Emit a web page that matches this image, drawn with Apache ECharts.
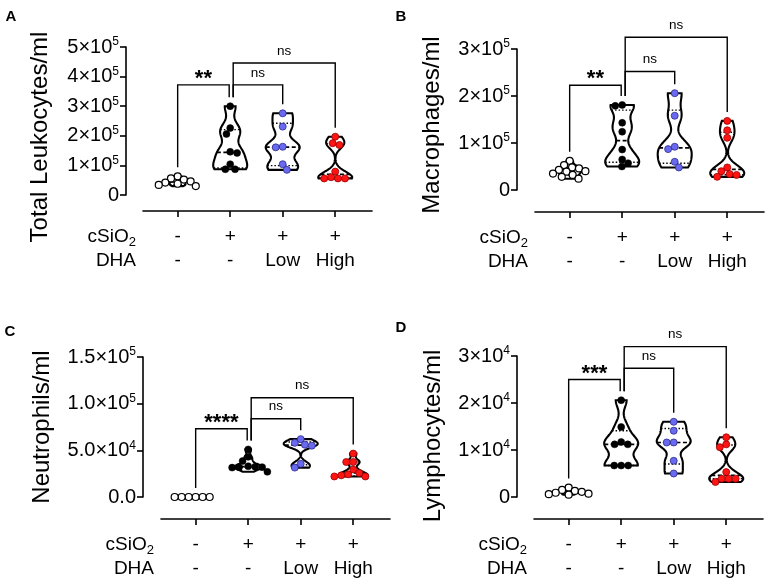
<!DOCTYPE html>
<html>
<head>
<meta charset="utf-8">
<script src="https://cdn.jsdelivr.net/npm/echarts@6.0.0/dist/echarts.min.js"></script>
<style>html,body{margin:0;padding:0;background:#fff}#main{width:765px;height:582px}</style>
</head>
<body>
<div id="main"></div>
<script>
// ---------- data ----------
const cSiO2Row = ['-', '+', '+', '+'];
const dhaRow = ['-', '-', 'Low', 'High'];

// A: Total leukocytes / ml
const leukControl = [63000, 56000, 52000, 46000, 42000, 38000, 34000, 30000];
const leukSiO2 = [300000, 226000, 206000, 146000, 142000, 104000, 87000, 87000];
const leukLow = [276000, 231000, 163000, 161000, 104000, 85000];
const leukHigh = [197000, 175000, 169000, 79000, 60000, 56000, 56000, 56000];
const leukTicks = ['0', '1×10^5', '2×10^5', '3×10^5', '4×10^5', '5×10^5'];
const leukBrackets = [[0, 1, 372000, '**'], [1, 2, 372000, 'ns'], [1, 3, 446000, 'ns']];

// B: Macrophages / ml
const macControl = [62000, 53000, 48000, 46000, 43000, 40000, 39000, 35000, 32000, 28000, 24000];
const macSiO2 = [181000, 179000, 143000, 124000, 86000, 65000, 57000, 50000];
const macLow = [206000, 158000, 92000, 87000, 60000, 48000];
const macHigh = [147000, 127000, 111000, 48000, 40000, 34000, 32000, 28000];
const macTicks = ['0', '1×10^5', '2×10^5', '3×10^5'];
const macBrackets = [[0, 1, 223000, '**'], [1, 2, 252000, 'ns'], [1, 3, 325000, 'ns']];

// C: Neutrophils / ml
const neuControl = [0, 0, 0, 0, 0, 0];
const neuSiO2 = [51000, 43000, 38500, 33000, 32500, 32000, 32000, 31500, 27000];
const neuLow = [62000, 58000, 56000, 55000, 35500, 31500];
const neuHigh = [46500, 37500, 37500, 29500, 25700, 24300, 23200, 22000, 22000];
const neuTicks = ['0.0', '5.0×10^4', '1.0×10^5', '1.5×10^5'];
const neuBrackets = [[0, 1, 73100, '****'], [1, 2, 83900, 'ns'], [1, 3, 106400, 'ns']];

// D: Lymphocytes / ml
const lymControl = [2000, 1500, 1300, 1100, 900, 700, 600, 500];
const lymSiO2 = [20600, 14900, 11700, 11200, 11200, 6700, 6700, 6700];
const lymLow = [16000, 14100, 11600, 11600, 7700, 5000];
const lymHigh = [12700, 11200, 10600, 5300, 3900, 3900, 3900, 3200];
const lymTicks = ['0', '1×10^4', '2×10^4', '3×10^4'];
const lymBrackets = [[0, 1, 25000, '***'], [1, 2, 27400, 'ns'], [1, 3, 32000, 'ns']];

// ---------- layout / style ----------
const FONT = '"Liberation Sans", Arial, Helvetica, sans-serif';
const XMIN = -0.66, XMAX = 3.7;
const panels = [
  { letter: 'A', title: 'Total Leukocytes/ml', groups: [leukControl, leukSiO2, leukLow, leukHigh], ticks: leukTicks, brackets: leukBrackets,
    max: 500000, interval: 100000, left: 143, top: 47, height: 148, yOff: 17, xOff: 16,
    titlePos: [40, 137], letterPos: [11, 17] },
  { letter: 'B', title: 'Macrophages/ml', groups: [macControl, macSiO2, macLow, macHigh], ticks: macTicks, brackets: macBrackets,
    max: 300000, interval: 100000, left: 535, top: 49, height: 141, yOff: 18, xOff: 22,
    titlePos: [432, 125], letterPos: [401, 17] },
  { letter: 'C', title: 'Neutrophils/ml', groups: [neuControl, neuSiO2, neuLow, neuHigh], ticks: neuTicks, brackets: neuBrackets,
    max: 150000, interval: 50000, left: 161, top: 357, height: 140, yOff: 18, xOff: 22,
    titlePos: [42, 427], letterPos: [10, 332] },
  { letter: 'D', title: 'Lymphocytes/ml', groups: [lymControl, lymSiO2, lymLow, lymHigh], ticks: lymTicks, brackets: lymBrackets,
    max: 30000, interval: 10000, left: 534, top: 356, height: 141, yOff: 17, xOff: 22,
    titlePos: [433, 436], letterPos: [401, 328] }
];
const GRID_W = 229;
const pointStyles = [
  { color: '#ffffff', borderColor: '#000000', borderWidth: 1.2 },
  { color: '#000000', borderColor: '#000000', borderWidth: 0.5 },
  { color: '#6a6af0', borderColor: '#2b2b8a', borderWidth: 0.8 },
  { color: '#ff1414', borderColor: '#9a0000', borderWidth: 0.8 }
];
const SYM = 7;

function tickRich(s) {
  const parts = s.split('^');
  return parts.length === 2 ? '{m|' + parts[0] + '}{s|' + parts[1] + '}' : '{m|' + s + '}';
}

function swarm(vals, pxPerVal) {
  const D = SYM;
  const sorted = vals.slice().sort((a, b) => b - a);
  const placed = [];
  let side = -1;
  return sorted.map(v => {
    const y = v * pxPerVal;
    const cands = [0];
    placed.forEach(p => {
      const dy = Math.abs(p.y - y);
      if (dy < D) { const dx = Math.sqrt(D * D - dy * dy); cands.push(p.x + dx, p.x - dx); }
    });
    cands.sort((a, b) => (Math.abs(a) - Math.abs(b)) || ((Math.sign(b) - Math.sign(a)) * side));
    let x = 0;
    for (const c of cands) {
      if (placed.every(p => (p.x - c) * (p.x - c) + (p.y - y) * (p.y - y) >= D * D - 0.01)) { x = c; break; }
    }
    if (x !== 0) side = -Math.sign(x);
    placed.push({ x, y });
    return { v, x };
  });
}

function quantile(sorted, p) {
  const n = sorted.length;
  const pos = p * (n + 1);
  if (pos <= 1) return sorted[0];
  if (pos >= n) return sorted[n - 1];
  const i = Math.floor(pos), f = pos - i;
  return sorted[i - 1] + f * (sorted[i] - sorted[i - 1]);
}

const grids = [], xAxes = [], yAxes = [], series = [], graphics = [];
panels.forEach((P, pi) => {
  grids.push({ left: P.left, top: P.top, width: GRID_W, height: P.height, containLabel: false });
  xAxes.push({
    gridIndex: pi, type: 'value', min: XMIN, max: XMAX, offset: P.xOff, position: 'bottom',
    axisLine: { show: true, onZero: false, lineStyle: { color: '#000', width: 1.6 } },
    axisTick: { show: true, length: 6, customValues: [0, 1, 2, 3], lineStyle: { color: '#000', width: 1.6 } },
    axisLabel: { show: true, customValues: [0, 1, 2, 3], margin: 14, fontSize: 19, lineHeight: 24, color: '#000', fontFamily: FONT,
      formatter: v => cSiO2Row[Math.round(v)] + '\n' + dhaRow[Math.round(v)] },
    splitLine: { show: false },
    name: '{t|cSiO}{sub|2}\n{t|DHA}', nameLocation: 'start', nameGap: 7,
    nameTextStyle: { align: 'right', verticalAlign: 'top', padding: [14, 0, 0, 0], fontSize: 19, lineHeight: 24, color: '#000', fontFamily: FONT,
      rich: { t: { fontSize: 19, lineHeight: 24, color: '#000', fontFamily: FONT },
              sub: { fontSize: 13, lineHeight: 10, verticalAlign: 'bottom', color: '#000', fontFamily: FONT } } }
  });
  yAxes.push({
    gridIndex: pi, type: 'value', min: 0, max: P.max, interval: P.interval, offset: P.yOff, position: 'left',
    axisLine: { show: true, onZero: false, lineStyle: { color: '#000', width: 1.6 } },
    axisTick: { show: true, length: 6, lineStyle: { color: '#000', width: 1.6 } },
    axisLabel: { margin: 7, color: '#000', fontFamily: FONT,
      formatter: v => tickRich(P.ticks[Math.round(v / P.interval)] || ''),
      rich: { m: { fontSize: 20, lineHeight: 22, color: '#000', fontFamily: FONT },
              s: { fontSize: 12, lineHeight: 8, verticalAlign: 'top', color: '#000', fontFamily: FONT } } },
    splitLine: { show: false }
  });

  const groups = P.groups;
  // violins
  series.push({
    type: 'custom', xAxisIndex: pi, yAxisIndex: pi, clip: false, silent: true, z: 2,
    data: groups.map((g, i) => [i, Math.max(...g)]),
    renderItem: (params, api) => {
      const gi = api.value(0);
      const vals = groups[gi].slice().sort((a, b) => a - b);
      const lo = vals[0], hi = vals[vals.length - 1];
      if (hi - lo <= 0) return null;
      const h = 0.12 * (hi - lo);
      const kde = y => vals.reduce((s, v) => s + Math.exp(-0.5 * ((y - v) / h) * ((y - v) / h)), 0);
      const N = 90, samples = [];
      let dmax = 0;
      for (let k = 0; k <= N; k++) {
        const y = lo + (hi - lo) * k / N, d = kde(y);
        samples.push([y, d]); if (d > dmax) dmax = d;
      }
      const cx = api.coord([gi, lo])[0];
      const rangePx = api.coord([gi, lo])[1] - api.coord([gi, hi])[1];
      const hw = Math.min(17, 3 + rangePx * 0.5);
      const right = samples.map(([y, d]) => [cx + hw * d / dmax, api.coord([gi, y])[1]]);
      const left = samples.slice().reverse().map(([y, d]) => [cx - hw * d / dmax, api.coord([gi, y])[1]]);
      const children = [{ type: 'polygon', shape: { points: right.concat(left) }, style: { fill: '#fff', stroke: '#000', lineWidth: 2.1 } }];
      [[0.25, false], [0.5, true], [0.75, false]].forEach(([p, isMed]) => {
        const v = quantile(vals, p);
        const w = hw * kde(v) / dmax;
        const py = api.coord([gi, v])[1];
        children.push({ type: 'line', shape: { x1: cx - w, y1: py, x2: cx + w, y2: py },
          style: { stroke: '#000', lineWidth: isMed ? 1.7 : 1.4, lineDash: isMed ? [4, 2.5] : [1.5, 2] } });
      });
      return { type: 'group', children };
    }
  });
  // points
  const pxPerVal = P.height / P.max;
  groups.forEach((g, gi) => {
    series.push({
      type: 'scatter', xAxisIndex: pi, yAxisIndex: pi, clip: false, silent: true, z: 3,
      symbol: 'circle', symbolSize: SYM, itemStyle: Object.assign({ opacity: 1 }, pointStyles[gi]),
      data: swarm(g, pxPerVal).map(o => ({ value: [gi, o.v], symbolOffset: [o.x, 0] }))
    });
  });
  // significance brackets
  series.push({
    type: 'custom', xAxisIndex: pi, yAxisIndex: pi, clip: false, silent: true, z: 4,
    data: P.brackets.map(b => [b[0], b[2], b[1]]),
    renderItem: (params, api) => {
      const b = P.brackets[params.dataIndex];
      const from = b[0], to = b[1], yv = b[2], label = b[3];
      const p1 = api.coord([from, yv]);
      const x2 = api.coord([to, yv])[0];
      const xl = p1[0] + (from === 1 ? 3 : 0), xr = x2 + (to === 1 ? -1 : 0), py = p1[1];
      const bl = api.coord([from, Math.max(...groups[from])])[1] - 9;
      const br = api.coord([to, Math.max(...groups[to])])[1] - 9;
      const star = label !== 'ns';
      return { type: 'group', children: [
        { type: 'polyline', shape: { points: [[xl, bl], [xl, py], [xr, py], [xr, br]] }, style: { stroke: '#000', lineWidth: 1.4, fill: 'none' } },
        { type: 'text', x: (xl + xr) / 2, y: py - (star ? 6 : 12),
          style: { text: label, fontSize: star ? 22 : 13.5, fontWeight: star ? 'bold' : 'normal', fontFamily: FONT, fill: '#000', align: 'center', verticalAlign: 'middle' } }
      ] };
    }
  });

  graphics.push({ type: 'text', x: P.titlePos[0], y: P.titlePos[1], rotation: Math.PI / 2,
    style: { text: P.title, fontSize: 24, fontFamily: FONT, fill: '#000', align: 'center', verticalAlign: 'middle' } });
  graphics.push({ type: 'text', x: P.letterPos[0], y: P.letterPos[1],
    style: { text: P.letter, fontSize: 15, fontWeight: 'bold', fontFamily: FONT, fill: '#000', align: 'center', verticalAlign: 'middle' } });
});

const chart = echarts.init(document.getElementById('main'), null, { renderer: 'canvas' });
chart.setOption({
  animation: false,
  backgroundColor: '#fff',
  grid: grids, xAxis: xAxes, yAxis: yAxes, series: series, graphic: graphics
});
</script>
</body>
</html>
